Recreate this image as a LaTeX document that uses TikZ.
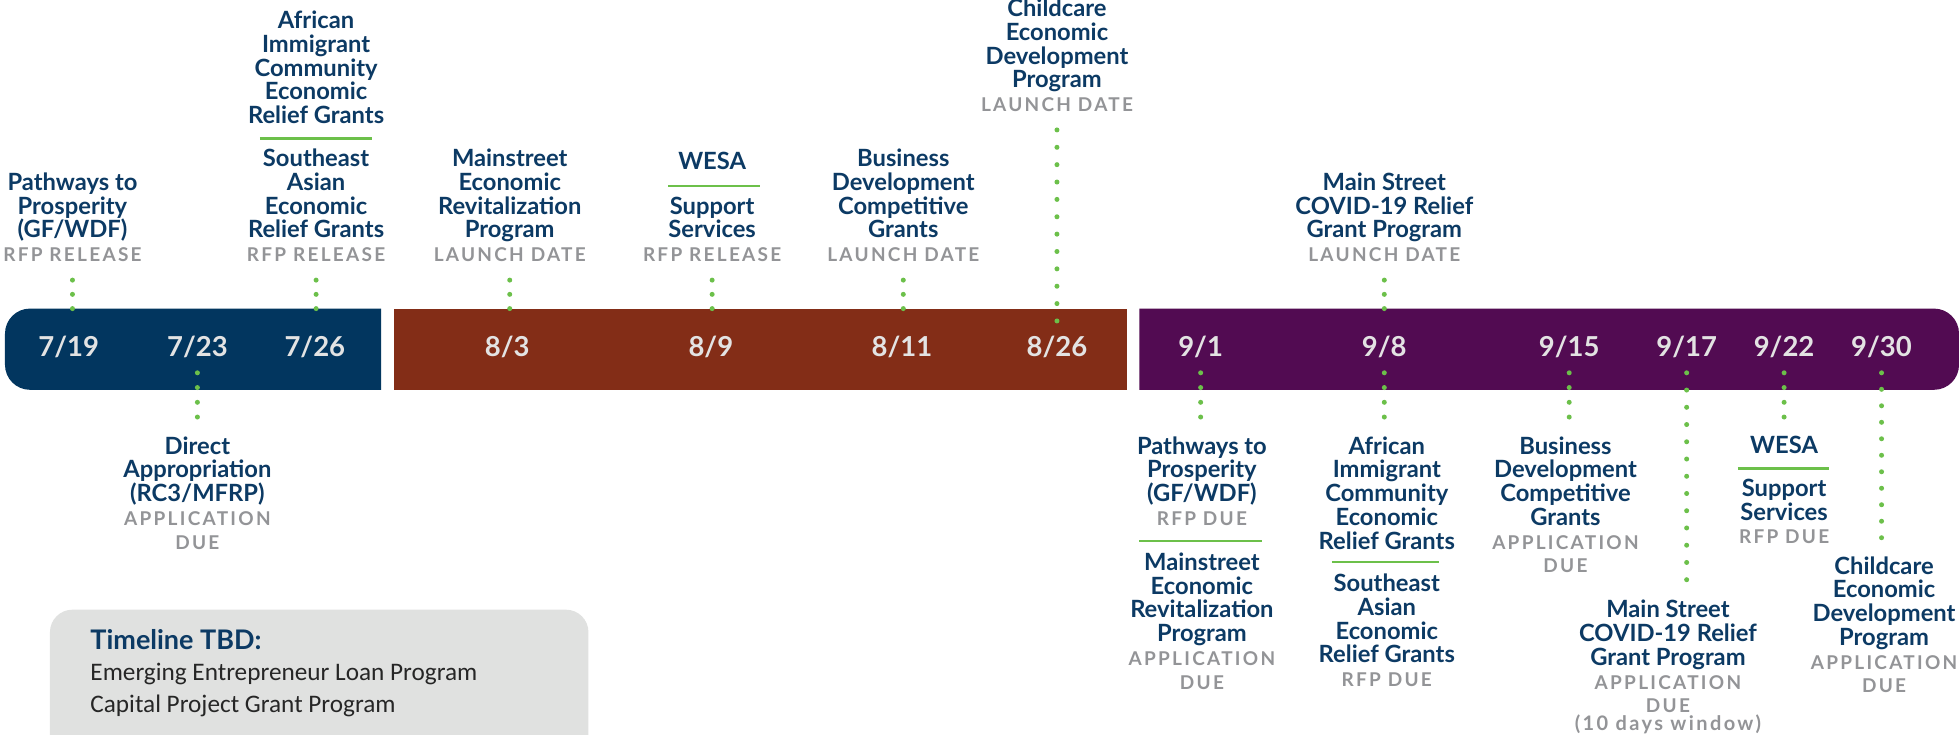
\documentclass[tikz,border=0pt]{standalone}
\usepackage{fontspec}
\setmainfont{Lato}
\newfontfamily\kindfont[LetterSpace=12]{Lato}
\newfontfamily\tbdfont{Carlito}

\definecolor{navy}{HTML}{02365F}
\definecolor{rust}{HTML}{832D17}
\definecolor{plum}{HTML}{520B52}
\definecolor{dotgreen}{HTML}{6CC04A}
\definecolor{inkblue}{HTML}{0C3A64}
\definecolor{labelgray}{HTML}{939497}
\definecolor{dategray}{HTML}{E3E3E3}
\definecolor{tbdgray}{HTML}{E0E1E0}

% gray kind of milestone under each title
\newcommand{\kind}[1]{{\color{labelgray}\kindfont\bfseries\fontsize{7.6}{9.5}\selectfont #1}}

\begin{document}
\begin{tikzpicture}[x=0.5pt, y=-0.5pt,
    evt/.style={align=center, inner sep=0pt, text=inkblue,
      font={\bfseries\fontsize{9.5}{9.5}\selectfont\lineskiplimit=-20pt}},
    datelbl/.style={anchor=base, inner sep=0pt, text=dategray, text height=7.5pt,
      text depth=0pt, font={\bfseries\fontsize{11}{11}\selectfont}},
    dots/.style={dotgreen, line width=2pt, line cap=round, dash pattern=on 0pt off 5.7pt},
    sepline/.style={dotgreen, line width=1pt}]
  \fill[white] (0,0) rectangle (1568,588);
  \useasboundingbox (0,0) rectangle (1568,588);

  % the three month bars
  \fill[navy] (305,247) -- (24,247) arc[start angle=90, end angle=180, radius=10pt]
    -- (4,292) arc[start angle=180, end angle=270, radius=10pt] -- (305,312) -- cycle;
  \fill[rust] (315,247) rectangle (902,312);
  \fill[plum] (912,247) -- (1548,247) arc[start angle=90, end angle=0, radius=10pt]
    -- (1568,292) arc[start angle=0, end angle=-90, radius=10pt] -- (912,312) -- cycle;

  \foreach \x/\m/\dd in {55/7/19, 158/7/23, 252/7/26, 406/8/3, 569/8/9, 722/8/11, 846/8/26,
      961/9/1, 1108/9/8, 1256/9/15, 1350/9/17, 1428/9/22, 1506/9/30}
    \node[datelbl] (d\m\dd) at (\x,285.6) {\m/\dd};

  % above the bars
  \node[evt, anchor=south] (t719) at (58,210) {Pathways to\\Prosperity\\(GF/WDF)\\\kind{RFP RELEASE}};
  \node[evt, anchor=south] (t726a) at (253,99.5) {African\\Immigrant\\Community\\Economic\\Relief Grants};
  \draw[sepline] (208,111) -- (298,111);
  \node[evt, anchor=south] (t726b) at (253,210) {Southeast\\Asian\\Economic\\Relief Grants\\\kind{RFP RELEASE}};
  \node[evt, anchor=south] (t803) at (408,210) {Mainstreet\\Economic\\Revitalization\\Program\\\kind{LAUNCH DATE}};
  \node[evt, anchor=south] (t809a) at (570,136.5) {WESA};
  \draw[sepline] (535,149) -- (608,149);
  \node[evt, anchor=south] (t809b) at (570,210) {Support\\Services\\\kind{RFP RELEASE}};
  \node[evt, anchor=south] (t811) at (723,210) {Business\\Development\\Competitive\\Grants\\\kind{LAUNCH DATE}};
  \node[evt, anchor=south] (t826) at (846,89.8) {Childcare\\Economic\\Development\\Program\\\kind{LAUNCH DATE}};
  \node[evt, anchor=south] (t908) at (1108,210) {Main Street\\COVID-19 Relief\\Grant Program\\\kind{LAUNCH DATE}};

  \draw[dots] ([yshift=-7.1pt]t719.south) -- ([yshift=6.1pt]t719.south |- d719.north);
  \draw[dots] ([yshift=-7.1pt]t726b.south) -- ([yshift=6.1pt]t726b.south |- d726.north);
  \draw[dots] ([yshift=-7.1pt]t803.south) -- ([yshift=6.1pt]t803.south |- d83.north);
  \draw[dots] ([yshift=-7.1pt]t809b.south) -- ([yshift=6.1pt]t809b.south |- d89.north);
  \draw[dots] ([yshift=-7.1pt]t811.south) -- ([yshift=6.1pt]t811.south |- d811.north);
  \draw[dots, dash pattern=on 0pt off 6.95pt] ([yshift=-7.1pt]t826.south) -- ([yshift=6.1pt]t826.south |- d826.north);
  \draw[dots] ([yshift=-7.1pt]t908.south) -- ([yshift=6.1pt]t908.south |- d98.north);

  % below the bars
  \node[evt, anchor=north] (b723) at (158,349) {Direct\\Appropriation\\(RC3/MFRP)\\\kind{APPLICATION}\\\kind{DUE}};
  \node[evt, anchor=north] (b901a) at (962,349) {Pathways to\\Prosperity\\(GF/WDF)\\\kind{RFP DUE}};
  \draw[sepline] (912,433) -- (1010,433);
  \node[evt, anchor=north] (b901b) at (962,442) {Mainstreet\\Economic\\Revitalization\\Program\\\kind{APPLICATION}\\\kind{DUE}};
  \node[evt, anchor=north] (b908a) at (1110,349) {African\\Immigrant\\Community\\Economic\\Relief Grants};
  \draw[sepline] (1066,450) -- (1152,450);
  \node[evt, anchor=north] (b908b) at (1110,459) {Southeast\\Asian\\Economic\\Relief Grants\\\kind{RFP DUE}};
  \node[evt, anchor=north] (b915) at (1253,349) {Business\\Development\\Competitive\\Grants\\\kind{APPLICATION}\\\kind{DUE}};
  \node[evt, anchor=north] (b922a) at (1428,349) {WESA};
  \draw[sepline] (1391,375) -- (1464,375);
  \node[evt, anchor=north] (b922b) at (1428,383) {Support\\Services\\\kind{RFP DUE}};
  \node[evt, anchor=north] (b917) at (1335,480) {Main Street\\COVID-19 Relief\\Grant Program\\\kind{APPLICATION}\\\kind{DUE}\\[-2.5pt]\kind{\fontsize{8}{9.5}\selectfont(10 days window)}};
  \node[evt, anchor=north] (b930) at (1508,445) {Childcare\\Economic\\Development\\Program\\\kind{APPLICATION}\\\kind{DUE}};

  \draw[dots, dash pattern=on 0pt off 5.9pt] ([yshift=-6.2pt]d723.south) -- ([yshift=7.5pt]d723.south |- b723.north);
  \draw[dots, dash pattern=on 0pt off 5.9pt] ([yshift=-6.2pt]d91.south) -- ([yshift=7.5pt]d91.south |- b901a.north);
  \draw[dots, dash pattern=on 0pt off 5.9pt] ([yshift=-6.2pt]d98.south) -- ([yshift=7.5pt]d98.south |- b908a.north);
  \draw[dots, dash pattern=on 0pt off 5.9pt] ([yshift=-6.2pt]d915.south) -- ([yshift=7.5pt]d915.south |- b915.north);
  \draw[dots, dash pattern=on 0pt off 6.9pt] ([yshift=-6.2pt]d917.south) -- ([yshift=7pt]d917.south |- b917.north);
  \draw[dots, dash pattern=on 0pt off 5.9pt] ([yshift=-6.2pt]d922.south) -- ([yshift=7.5pt]d922.south |- b922a.north);
  \draw[dots, dash pattern=on 0pt off 6.6pt] ([yshift=-6.2pt]d930.south) -- ([yshift=6pt]d930.south |- b930.north);

  % programs without dates
  \fill[tbdgray, rounded corners=9pt] (40,488) rectangle (471,620);
  \node[anchor=base west, inner sep=0pt, text=inkblue, font={\bfseries\fontsize{10.8}{10.8}\selectfont}] (tbd) at (72,519.5) {Timeline TBD:};
  \node[anchor=base west, inner sep=0pt, text=black!85, font={\tbdfont\fontsize{10.1}{10.1}\selectfont}] (eelp) at (72,545) {Emerging Entrepreneur Loan Program};
  \node[anchor=base west, inner sep=0pt, text=black!85, font={\tbdfont\fontsize{10.1}{10.1}\selectfont}] (cpgp) at (72,570) {Capital Project Grant Program};
\end{tikzpicture}
\end{document}
